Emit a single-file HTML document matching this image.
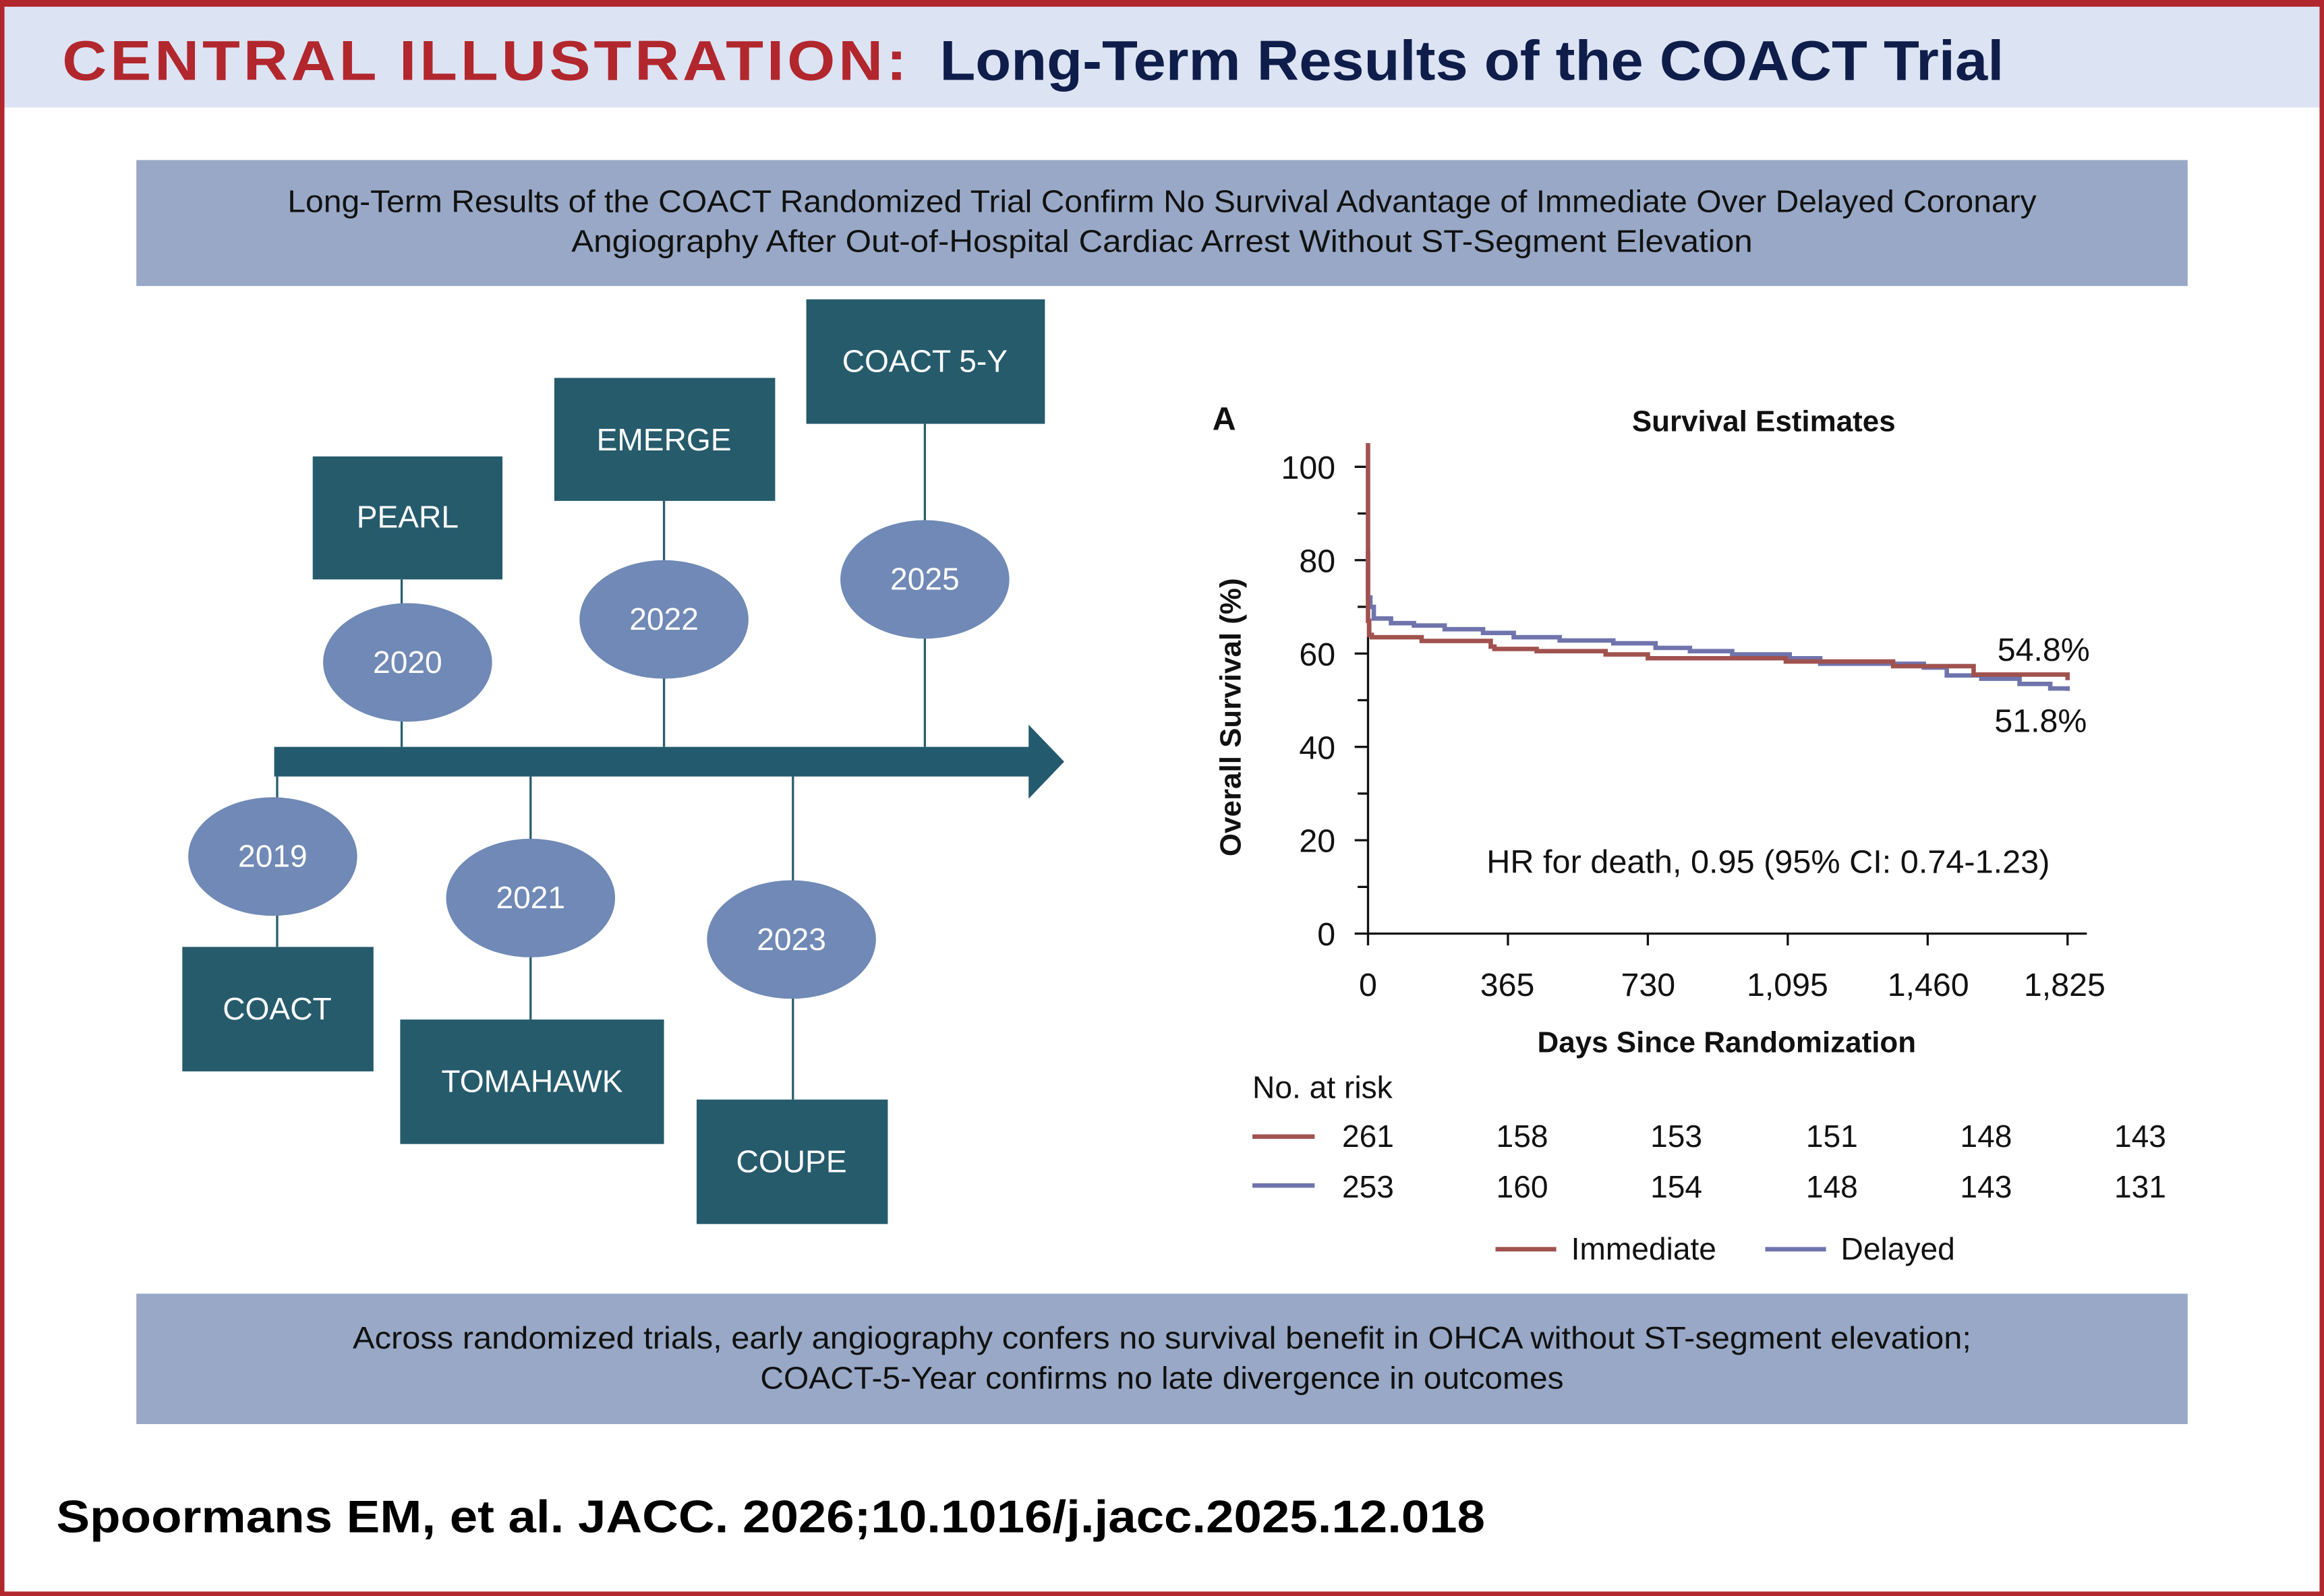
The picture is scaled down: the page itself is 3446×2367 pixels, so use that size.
<!DOCTYPE html>
<html><head><meta charset="utf-8"><style>
html,body{margin:0;padding:0;background:#fff;}
svg{display:block;}
text{font-family:"Liberation Sans",sans-serif;}
</style></head><body>
<svg width="3446" height="2367" viewBox="0 0 1568 1077" xmlns="http://www.w3.org/2000/svg">
<rect x="0" y="0" width="1568" height="1077" fill="#fff"/>
<rect x="0" y="4" width="1568" height="68.5" fill="#dce3f3"/>
<rect x="1.5" y="1.5" width="1565" height="1074" fill="none" stroke="#b1272d" stroke-width="3"/>
<rect x="0" y="0" width="1568" height="4.5" fill="#b1272d"/>
<text x="42" y="54" font-size="38" font-weight="bold" fill="#b1272d" textLength="572" lengthAdjust="spacingAndGlyphs" letter-spacing="2">CENTRAL ILLUSTRATION:</text>
<text x="634" y="54" font-size="38" font-weight="bold" fill="#0f1d4a" textLength="718" lengthAdjust="spacingAndGlyphs">Long-Term Results of the COACT Trial</text>

<rect x="92" y="108" width="1384" height="85" fill="#98a8c6"/>
<text x="784" y="143" font-size="21" text-anchor="middle" fill="#111" textLength="1180" lengthAdjust="spacingAndGlyphs">Long-Term Results of the COACT Randomized Trial Confirm No Survival Advantage of Immediate Over Delayed Coronary</text>
<text x="784" y="170" font-size="21" text-anchor="middle" fill="#111" textLength="797" lengthAdjust="spacingAndGlyphs">Angiography After Out-of-Hospital Cardiac Arrest Without ST-Segment Elevation</text>

<rect x="92" y="873" width="1384" height="88" fill="#98a8c6"/>
<text x="784" y="910" font-size="21" text-anchor="middle" fill="#111" textLength="1092" lengthAdjust="spacingAndGlyphs">Across randomized trials, early angiography confers no survival benefit in OHCA without ST-segment elevation;</text>
<text x="784" y="937" font-size="21" text-anchor="middle" fill="#111" textLength="542" lengthAdjust="spacingAndGlyphs">COACT-5-Year confirms no late divergence in outcomes</text>

<text x="38" y="1034" font-size="31" font-weight="bold" fill="#000" textLength="964" lengthAdjust="spacingAndGlyphs">Spoormans EM, et al. JACC. 2026;10.1016/j.jacc.2025.12.018</text>

<g stroke="#2a5d6e" stroke-width="1.5">
<line x1="624" y1="286" x2="624" y2="504"/>
<line x1="448" y1="338" x2="448" y2="504"/>
<line x1="271" y1="391" x2="271" y2="504"/>
<line x1="187" y1="524" x2="187" y2="639"/>
<line x1="358" y1="524" x2="358" y2="688"/>
<line x1="535" y1="524" x2="535" y2="742"/>
</g>
<rect x="185" y="504" width="512" height="20" fill="#245a6e"/>
<polygon points="694,489 718,514 694,539" fill="#245a6e"/>
<g fill="#265b6c">
<rect x="544" y="202" width="161" height="84"/>
<rect x="374" y="255" width="149" height="83"/>
<rect x="211" y="308" width="128" height="83"/>
<rect x="123" y="639" width="129" height="84"/>
<rect x="270" y="688" width="178" height="84"/>
<rect x="470" y="742" width="129" height="84"/>
</g>
<g fill="#7089b6">
<ellipse cx="624" cy="391" rx="57" ry="40"/>
<ellipse cx="448" cy="418" rx="57" ry="40"/>
<ellipse cx="275" cy="447" rx="57" ry="40"/>
<ellipse cx="184" cy="578" rx="57" ry="40"/>
<ellipse cx="358" cy="606" rx="57" ry="40"/>
<ellipse cx="534" cy="634" rx="57" ry="40"/>
</g>
<g fill="#fff" font-size="21" text-anchor="middle">
<text x="624" y="251">COACT 5-Y</text>
<text x="448" y="304">EMERGE</text>
<text x="275" y="356">PEARL</text>
<text x="187" y="688">COACT</text>
<text x="359" y="737">TOMAHAWK</text>
<text x="534" y="791">COUPE</text>
<text x="624" y="398">2025</text>
<text x="448" y="425">2022</text>
<text x="275" y="454">2020</text>
<text x="184" y="585">2019</text>
<text x="358" y="613">2021</text>
<text x="534" y="641">2023</text>
</g>

<text x="818" y="290" font-size="22" font-weight="bold" fill="#111">A</text>
<text x="1190" y="291" font-size="20" font-weight="bold" text-anchor="middle" fill="#111">Survival Estimates</text>
<text transform="translate(837,484) rotate(-90)" font-size="20" font-weight="bold" text-anchor="middle" fill="#111">Overall Survival (%)</text>
<g stroke="#111" stroke-width="1.5">
<line x1="923" y1="300" x2="923" y2="630"/>
<line x1="914" y1="630" x2="1408" y2="630"/>
<line x1="914" y1="315" x2="923" y2="315"/>
<line x1="916" y1="346.5" x2="923" y2="346.5"/>
<line x1="914" y1="378" x2="923" y2="378"/>
<line x1="916" y1="409.5" x2="923" y2="409.5"/>
<line x1="914" y1="441" x2="923" y2="441"/>
<line x1="916" y1="472.5" x2="923" y2="472.5"/>
<line x1="914" y1="504" x2="923" y2="504"/>
<line x1="916" y1="535.5" x2="923" y2="535.5"/>
<line x1="914" y1="567" x2="923" y2="567"/>
<line x1="916" y1="598.5" x2="923" y2="598.5"/>
<line x1="923" y1="630" x2="923" y2="638"/>
<line x1="1017.4" y1="630" x2="1017.4" y2="638"/>
<line x1="1111.8" y1="630" x2="1111.8" y2="638"/>
<line x1="1206.2" y1="630" x2="1206.2" y2="638"/>
<line x1="1300.6" y1="630" x2="1300.6" y2="638"/>
<line x1="1395" y1="630" x2="1395" y2="638"/>
</g>
<g font-size="22" fill="#111" text-anchor="end">
<text x="901" y="323">100</text>
<text x="901" y="386">80</text>
<text x="901" y="449">60</text>
<text x="901" y="512">40</text>
<text x="901" y="575">20</text>
<text x="901" y="638">0</text>
</g>
<g font-size="22" fill="#111" text-anchor="middle">
<text x="923" y="672">0</text>
<text x="1017" y="672">365</text>
<text x="1112" y="672">730</text>
<text x="1206" y="672">1,095</text>
<text x="1301" y="672">1,460</text>
<text x="1393" y="672">1,825</text>
</g>
<text x="1165" y="710" font-size="20" font-weight="bold" text-anchor="middle" fill="#111">Days Since Randomization</text>
<text x="1193" y="589" font-size="22" text-anchor="middle" fill="#111" textLength="380" lengthAdjust="spacingAndGlyphs">HR for death, 0.95 (95% CI: 0.74-1.23)</text>
<text x="1410" y="446" font-size="22" text-anchor="end" fill="#111">54.8%</text>
<text x="1408" y="494" font-size="22" text-anchor="end" fill="#111">51.8%</text>

<path fill="none" stroke="#6f74ad" stroke-width="3" d="M923,371.7 V403.2 H924.6 V409.5 H926.9 V417.4 H938.5 V420.5 H954 V422.1 H974.7 V424.6 H1000.6 V427.1 H1021.3 V430 H1052.3 V432.2 H1088.5 V434.1 H1117 V437.2 H1140.2 V439.4 H1168.7 V441.6 H1207.5 V444.2 H1228.1 V447.9 H1298 V450.5 H1313.5 V455.8 H1336.8 V458 H1362.6 V461.5 H1383.3 V464.6 H1395 V466.2"/>
<path fill="none" stroke="#a0524f" stroke-width="3" d="M923,299 V418.9 H923.8 V428.4 H925.6 V430 H959.2 V432.5 H1005.8 V436.3 H1008.3 V437.9 H1036.8 V439.4 H1083.3 V441.6 H1111.8 V444.2 H1204.9 V446.4 H1277.3 V449.5 H1331.6 V455.2 H1395 V459"/>

<text x="845" y="741" font-size="21" fill="#111">No. at risk</text>
<line x1="845" y1="767" x2="887" y2="767" stroke="#a0524f" stroke-width="3"/>
<line x1="845" y1="800" x2="887" y2="800" stroke="#6f74ad" stroke-width="3"/>
<g font-size="21" fill="#111" text-anchor="middle">
<text x="923" y="774">261</text><text x="1027" y="774">158</text><text x="1131" y="774">153</text><text x="1236" y="774">151</text><text x="1340" y="774">148</text><text x="1444" y="774">143</text>
<text x="923" y="808">253</text><text x="1027" y="808">160</text><text x="1131" y="808">154</text><text x="1236" y="808">148</text><text x="1340" y="808">143</text><text x="1444" y="808">131</text>
</g>
<line x1="1009" y1="843" x2="1050" y2="843" stroke="#a0524f" stroke-width="3"/>
<text x="1060" y="850" font-size="21" fill="#111">Immediate</text>
<line x1="1191" y1="843" x2="1232" y2="843" stroke="#6f74ad" stroke-width="3"/>
<text x="1242" y="850" font-size="21" fill="#111">Delayed</text>
</svg>
</body></html>
